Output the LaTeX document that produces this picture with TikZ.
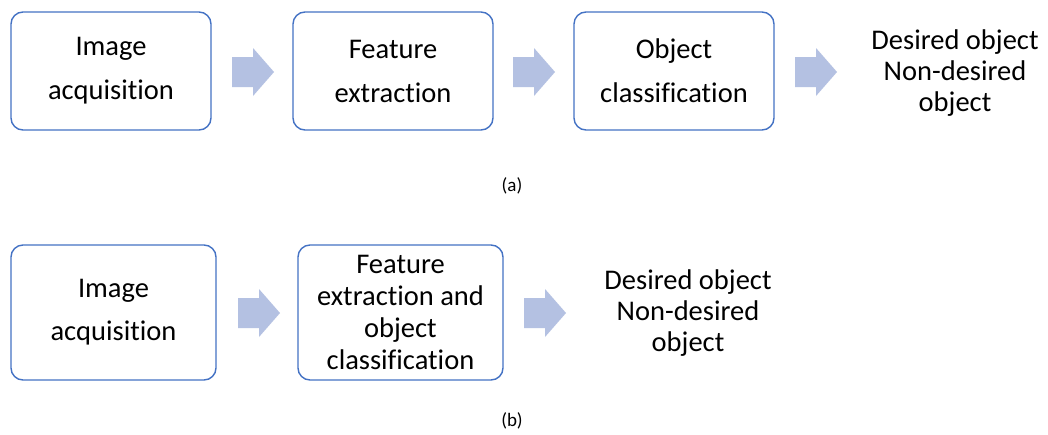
\documentclass[tikz,border=0pt]{standalone}
\usepackage{fontspec}
\setmainfont{Carlito}[Ligatures=NoCommon]
\begin{document}
\begin{tikzpicture}[x=1pt,y=-1pt,
  box/.style={draw=boxblue, line width=1.4pt, rounded corners=12pt, fill=white,
    align=center, inner sep=0pt, font=\fontsize{28.5}{32}\selectfont},
  outtext/.style={align=center, font=\fontsize{28.5}{31}\selectfont},
  caption/.style={font=\fontsize{19}{22}\selectfont},
  blockarrow/.style={fill=arrowblue, draw=none}]
\definecolor{boxblue}{HTML}{4472C4}
\definecolor{arrowblue}{HTML}{B4C1E2}
\useasboundingbox (0,0) rectangle (1048,434);
\fill[white] (0,0) rectangle (1048,434);
% (a)
\node[box, minimum width=200pt, minimum height=118pt] (a1) at (111,71) {Image\\[12pt]acquisition};
\node[box, minimum width=200pt, minimum height=118pt] (a2) at (393,71) {Feature\\[12pt]extraction};
\node[box, minimum width=200pt, minimum height=118pt] (a3) at (674,71) {Object\\[12pt]classification};
\node[outtext] (a4) at (955,73) {Desired object\\Non-desired\\object};
\node[caption] (ca) at (512,186) {(a)};
% (b)
\node[box, minimum width=205pt, minimum height=135pt] (b1) at (113.5,312.5) {Image\\[11pt]acquisition};
\node[box, minimum width=205pt, minimum height=135pt] (b2) at (400.5,312.5) {Feature\\extraction and\\object\\classification};
\node[outtext] (b3) at (688,313) {Desired object\\Non-desired\\object};
\node[caption] (cb) at (512,421) {(b)};
% block arrows
\newcommand{\blockarrow}[2]{%
  \fill[blockarrow] (#1,#2) ++(0,-15) -- ++(21,0) -- ++(0,-9) -- ++(21,24) -- ++(-21,24) -- ++(0,-9) -- ++(-21,0) -- cycle;}
\blockarrow{232}{72}
\blockarrow{513}{72}
\blockarrow{795}{72}
\blockarrow{238}{313}
\blockarrow{524}{313}
\end{tikzpicture}
\end{document}
